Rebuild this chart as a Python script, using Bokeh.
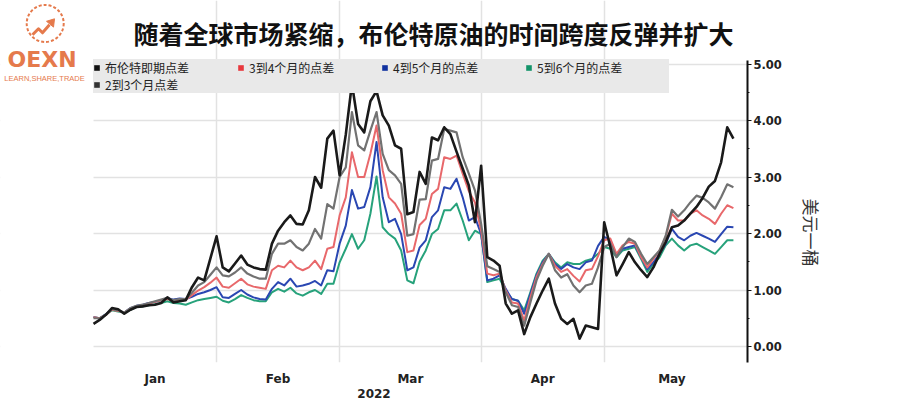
from bokeh.plotting import figure
from bokeh.models import (Range1d, FixedTicker, SingleIntervalTicker, PrintfTickFormatter,
                          Legend, LegendItem, Label, Title, BoxAnnotation)
from bokeh.embed import file_html
from bokeh.resources import INLINE
from bokeh.core.properties import value

# ---------------- data (trading-day index, USD/bbl) ----------------
title_text = "随着全球市场紧缩，布伦特原油的时间跨度反弹并扩大"
axis_title = "美元一桶"
year_label = "2022"
month_labels = ["Jan", "Feb", "Mar", "Apr", "May"]
month_starts = [0, 20, 40, 63, 83]
last_day = 105

series_names = ["布伦特即期点差", "2到3个月点差", "3到4个月的点差", "4到5个月的点差", "5到6个月的点差"]

spot = [0.40, 0.47, 0.56, 0.68, 0.66, 0.58, 0.65, 0.70, 0.71, 0.73,
        0.74, 0.77, 0.87, 0.78, 0.80, 0.82, 1.05, 1.22, 1.17, 1.56,
        1.95, 1.40, 1.33, 1.47, 1.61, 1.45, 1.40, 1.37, 1.36, 1.82,
        2.05, 2.20, 2.32, 2.17, 2.16, 2.41, 3.00, 2.81, 3.68, 3.82,
        3.03, 3.75, 4.65, 3.94, 3.79, 4.34, 4.52, 4.09, 3.91, 3.56,
        3.50, 2.34, 2.38, 3.09, 2.88, 3.70, 3.65, 3.88, 3.76, 3.45,
        3.15, 2.85, 2.20, 3.20, 1.58, 1.52, 1.43, 0.76, 0.58, 0.64,
        0.22, 0.52, 0.76, 0.99, 1.20, 0.76, 0.49, 0.40, 0.49, 0.14,
        0.37, 0.34, 0.31, 2.20, 1.76, 1.26, 1.46, 1.67, 1.49, 1.35,
        1.23, 1.40, 1.64, 1.85, 2.11, 2.14, 2.23, 2.35, 2.47, 2.63,
        2.83, 2.93, 3.26, 3.88, 3.68]

m2_3 = [0.50, 0.50, 0.56, 0.66, 0.64, 0.60, 0.68, 0.72, 0.74, 0.77,
        0.80, 0.83, 0.86, 0.82, 0.84, 0.84, 0.95, 1.08, 1.14, 1.27,
        1.40, 1.26, 1.24, 1.31, 1.40, 1.29, 1.24, 1.20, 1.20, 1.64,
        1.82, 1.82, 1.88, 1.76, 1.70, 1.82, 2.08, 1.91, 2.52, 2.44,
        3.00, 3.17, 4.15, 3.56, 3.47, 3.82, 4.15, 3.41, 3.12, 3.03,
        2.88, 1.96, 1.99, 2.60, 2.61, 3.29, 3.32, 3.85, 3.82, 3.79,
        3.35, 3.06, 2.76, 2.17, 1.42, 1.37, 1.32, 0.96, 0.73, 0.70,
        0.37, 0.78, 1.17, 1.43, 1.64, 1.35, 1.22, 1.28, 1.08, 0.96,
        1.08, 1.11, 1.40, 1.76, 1.82, 1.58, 1.76, 1.91, 1.85, 1.64,
        1.46, 1.58, 1.70, 1.96, 2.42, 2.30, 2.41, 2.55, 2.67, 2.63,
        2.55, 2.44, 2.64, 2.87, 2.82]

m3_4 = [0.52, 0.50, 0.56, 0.65, 0.63, 0.60, 0.67, 0.71, 0.73, 0.76,
        0.79, 0.82, 0.84, 0.81, 0.83, 0.83, 0.91, 0.99, 1.05, 1.13,
        1.22, 1.06, 1.04, 1.12, 1.20, 1.10, 1.06, 1.04, 1.02, 1.35,
        1.43, 1.40, 1.52, 1.40, 1.35, 1.40, 1.52, 1.37, 1.73, 1.76,
        2.32, 2.64, 3.44, 3.00, 3.00, 3.41, 3.91, 3.12, 2.64, 2.53,
        2.35, 1.67, 1.70, 2.15, 2.26, 2.70, 2.79, 3.35, 3.32, 3.38,
        3.06, 2.75, 2.55, 2.05, 1.29, 1.26, 1.29, 0.99, 0.78, 0.76,
        0.46, 0.87, 1.23, 1.46, 1.64, 1.43, 1.32, 1.37, 1.25, 1.15,
        1.35, 1.37, 1.60, 1.88, 1.91, 1.64, 1.79, 1.85, 1.82, 1.58,
        1.40, 1.55, 1.70, 1.94, 2.35, 2.23, 2.23, 2.35, 2.41, 2.32,
        2.26, 2.17, 2.35, 2.50, 2.45]

m4_5 = [0.52, 0.50, 0.57, 0.66, 0.64, 0.60, 0.68, 0.72, 0.74, 0.77,
        0.79, 0.82, 0.86, 0.83, 0.85, 0.84, 0.88, 0.93, 0.96, 1.00,
        1.05, 0.87, 0.86, 0.93, 1.00, 0.92, 0.87, 0.84, 0.83, 1.02,
        1.14, 1.08, 1.20, 1.06, 1.08, 1.11, 1.16, 1.08, 1.35, 1.33,
        1.82, 2.14, 2.77, 2.44, 2.47, 2.82, 3.62, 2.64, 2.20, 2.26,
        1.99, 1.35, 1.40, 1.75, 1.88, 2.29, 2.41, 2.82, 2.79, 2.97,
        2.64, 2.23, 2.29, 1.99, 1.17, 1.20, 1.26, 1.02, 0.84, 0.81,
        0.58, 0.93, 1.26, 1.49, 1.64, 1.46, 1.37, 1.46, 1.40, 1.37,
        1.49, 1.52, 1.78, 1.94, 1.88, 1.61, 1.73, 1.76, 1.79, 1.58,
        1.37, 1.49, 1.64, 1.82, 2.08, 1.94, 1.88, 1.96, 2.01, 1.96,
        1.91, 1.85, 1.99, 2.12, 2.11]

m5_6 = [0.52, 0.50, 0.57, 0.64, 0.62, 0.60, 0.65, 0.70, 0.71, 0.73,
        0.75, 0.77, 0.80, 0.77, 0.76, 0.74, 0.78, 0.82, 0.84, 0.86,
        0.88, 0.81, 0.78, 0.84, 0.91, 0.86, 0.82, 0.80, 0.80, 0.96,
        1.02, 0.97, 1.04, 0.94, 0.90, 0.96, 1.00, 0.93, 1.11, 1.11,
        1.49, 1.73, 1.99, 1.73, 1.88, 2.35, 3.01, 2.11, 1.99, 1.91,
        1.70, 1.17, 1.12, 1.50, 1.70, 1.99, 2.08, 2.41, 2.41, 2.53,
        2.23, 1.88, 2.05, 1.99, 1.14, 1.17, 1.20, 0.99, 0.84, 0.81,
        0.64, 0.96, 1.29, 1.52, 1.64, 1.49, 1.40, 1.49, 1.46, 1.46,
        1.52, 1.55, 1.64, 1.76, 1.73, 1.58, 1.70, 1.73, 1.76, 1.55,
        1.32, 1.46, 1.58, 1.79, 1.91, 1.79, 1.70, 1.79, 1.82, 1.76,
        1.70, 1.64, 1.76, 1.88, 1.88]

days = list(range(len(spot)))

# ---------------- styles / geometry (canvas pixels) ----------------
ORANGE = "#E57A4C"
line_colors = ["#1a1a1a", "#727272", "#e8686b", "#2a47b2", "#27a27b"]
legend_colors = ["#111111", "#333333", "#e8383d", "#10319f", "#139469"]
line_widths = [2.6, 2.2, 2.0, 2.0, 2.0]
CJK = "Noto Sans CJK SC"

PX_DAY = 6.153      # pixels per trading day
PX_USD = 56.5       # pixels per dollar
X0 = 93             # canvas x of first trading day
Y0 = 346            # canvas y of 0.00
W, H = 900, 400
FRAME_R, FRAME_B = 747, 362


def dx(px):
    return (px - X0) / PX_DAY


def dy(py):
    return (Y0 - py) / PX_USD


x_rng = Range1d(dx(0), dx(FRAME_R))
y_rng = Range1d(dy(FRAME_B), dy(0))

p = figure(width=W, height=H, output_backend="svg", toolbar_location=None, title=None,
           x_range=x_rng, y_range=y_rng, y_axis_location="right",
           min_border_left=0, min_border_top=0,
           min_border_right=W - FRAME_R, min_border_bottom=H - FRAME_B)
p.outline_line_color = None
p.background_fill_color = "white"

# grids
p.xgrid.ticker = FixedTicker(ticks=month_starts[1:])
p.ygrid.ticker = SingleIntervalTicker(interval=1)
for g in (p.xgrid, p.ygrid):
    g.grid_line_color = "#e2e2e2"
    g.grid_line_width = 1.5

# white mask left of the data area (logo zone)
p.add_layout(BoxAnnotation(right=0, fill_color="white", fill_alpha=1.0, line_color=None,
                           level="underlay"))

# bottom axis: month labels centred in each month
bounds = month_starts + [last_day]
mids = [(bounds[i] + bounds[i + 1]) / 2 for i in range(len(month_labels))]
p.xaxis.bounds = (0, dx(FRAME_R))
p.xaxis.ticker = FixedTicker(ticks=mids)
p.xaxis.major_label_overrides = {m: lab for m, lab in zip(mids, month_labels)}
p.xaxis.axis_line_color = None
p.xaxis.major_tick_line_color = None
p.xaxis.minor_tick_line_color = None
p.xaxis.major_label_text_font = "DejaVu Sans"
p.xaxis.major_label_text_font_style = "bold"
p.xaxis.major_label_text_font_size = "12px"
p.xaxis.major_label_text_color = "#222222"
p.xaxis.major_label_standoff = 3
p.xaxis.axis_label = year_label
p.xaxis.axis_label_standoff = 0
p.xaxis.axis_label_text_font = "DejaVu Sans"
p.xaxis.axis_label_text_font_style = "bold"
p.xaxis.axis_label_text_font_size = "12px"
p.xaxis.axis_label_text_color = "#222222"

# right axis
p.yaxis.bounds = (dy(FRAME_B), 5.07)
p.yaxis.ticker = SingleIntervalTicker(interval=1, num_minor_ticks=2)
p.yaxis.formatter = PrintfTickFormatter(format="%.2f")
p.yaxis.axis_line_color = "#111111"
p.yaxis.axis_line_width = 2
p.yaxis.major_tick_line_color = "#111111"
p.yaxis.major_tick_in = 0
p.yaxis.major_tick_out = 4
p.yaxis.minor_tick_line_color = "#111111"
p.yaxis.minor_tick_in = 0
p.yaxis.minor_tick_out = 2
p.yaxis.major_label_standoff = 2
p.yaxis.major_label_text_font = "DejaVu Sans"
p.yaxis.major_label_text_font_style = "bold"
p.yaxis.major_label_text_font_size = "11.5px"
p.yaxis.major_label_text_color = "#222222"

# unit title to the right of the axis (reads top to bottom)
p.add_layout(Title(text=axis_title, align="left", offset=198, standoff=29,
                   text_font=CJK, text_font_size="17px", text_font_style="normal",
                   text_color="#333333"), "right")

# lines (green at bottom, spot on top)
all_series = [spot, m2_3, m3_4, m4_5, m5_6]
for i in reversed(range(len(all_series))):
    p.line(days, all_series[i], line_color=line_colors[i], line_width=line_widths[i],
           line_join="round")

# legend swatches (one square placed outside the visible range)
ox, oy = x_rng.start - 100, y_rng.start - 100
swatches = [p.quad(left=[ox], right=[ox + 1], bottom=[oy], top=[oy + 1], color=c,
                   line_color=None) for c in legend_colors]
order = [0, 2, 3, 4, 1]
items = [LegendItem(label=series_names[i], renderers=[swatches[i]]) for i in order]
legend = Legend(items=items, location=(X0, 269), orientation="horizontal", ncols=4,
                label_text_font=CJK, label_text_font_size="12px", label_text_color="#222222",
                glyph_width=7, glyph_height=7, label_standoff=5, label_height=12,
                label_width=132, spacing=-6, padding=6, margin=0,
                background_fill_color="#e9e9e9", background_fill_alpha=1.0,
                border_line_color=None)
legend.level = "underlay"
p.add_layout(legend)

# chart title
p.add_layout(Label(x=dx(133), y=dy(32), text=title_text, text_align="left",
                   text_baseline="middle", text_font=CJK, text_font_size="25px",
                   text_font_style="bold", text_color="#111111"))

# ---------------- logo (top-left corner) ----------------
cx, cy = 44.7, 23.0
p.scatter(x=[dx(cx)], y=[dy(cy)], marker="circle", size=37, fill_color=None,
          line_color=ORANGE, line_width=2, line_dash="3 2")
zig = [(-12.7, 11.3), (-6.7, 5.3), (-2.7, 9.3), (4.3, 1.3)]
p.line(x=[dx(cx + a) for a, b in zig], y=[dy(cy + b) for a, b in zig],
       line_color=ORANGE, line_width=3, line_join="round")
head = [(9.3, -4.7), (8.3, 3.6), (1.3, -2.2)]
p.patch(x=[dx(cx + a) for a, b in head], y=[dy(cy + b) for a, b in head], color=ORANGE)
p.text(x=[dx(41.5)], y=[dy(59)], text=["OEXN"], text_font=value("DejaVu Sans"),
       text_font_style="bold", text_font_size="22px", text_align="center",
       text_baseline="middle", text_color=ORANGE)
p.text(x=[dx(44)], y=[dy(78)], text=["LEARN,SHARE,TRADE"], text_font=value("Liberation Sans"),
       text_font_size="7.5px", text_align="center", text_baseline="middle", text_color=ORANGE)

open("out.html", "w").write(file_html(p, INLINE))
